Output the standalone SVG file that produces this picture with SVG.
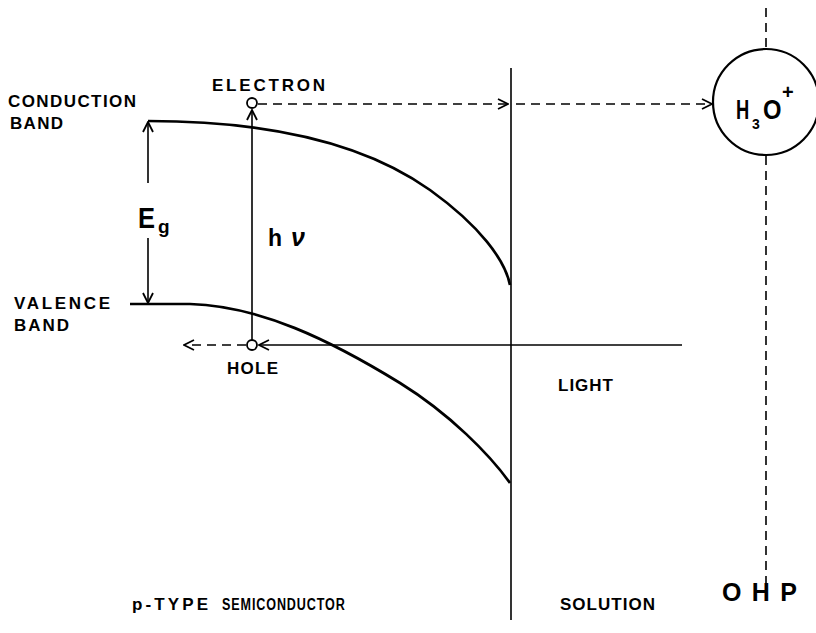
<svg xmlns="http://www.w3.org/2000/svg" width="816" height="633" viewBox="0 0 816 633">
<style>
text{font-family:"Liberation Sans",Arial,sans-serif;font-weight:bold;fill:#000}
.lbl{font-size:17px}
.band{fill:none;stroke:#000;stroke-width:2.7}
.ln{fill:none;stroke:#000;stroke-width:1.6}
.dash{fill:none;stroke:#000;stroke-width:1.6;stroke-dasharray:9,6}
</style>
<defs>
<marker id="ah" viewBox="0 0 12 12" refX="11" refY="6" markerWidth="12" markerHeight="12" markerUnits="userSpaceOnUse" orient="auto">
<path d="M1,1 L11,6 L1,11" fill="none" stroke="#000" stroke-width="1.8"/>
</marker>
</defs>
<rect width="816" height="633" fill="#fff"/>
<g id="bands">
<path class="band" d="M148,121 C260,121 360,140 430,190 C480,226 505,260 510,285"/>
<path class="band" d="M130,304 L190,304 C260,306 330,340 400,383 C450,414 490,455 510,483"/>
</g>
<g id="interface">
<line class="ln" x1="511" y1="68" x2="511" y2="620"/>
</g>
<g id="ohp">
<line class="dash" x1="766" y1="8" x2="766" y2="49"/>
<line class="dash" x1="766" y1="156" x2="766" y2="592"/>
<circle cx="766" cy="102" r="53" fill="none" stroke="#000" stroke-width="2.2"/>
<text transform="translate(736,119) scale(0.68,1)" font-size="27">H</text>
<text x="752" y="129" font-size="14">3</text>
<text transform="translate(763,119) scale(0.88,1)" font-size="27">O</text>
<text x="782" y="99" font-size="20">+</text>
</g>
<g id="electron">
<circle cx="252" cy="103" r="5" fill="#fff" stroke="#000" stroke-width="1.8"/>
<text class="lbl" x="212" y="91" textLength="113" lengthAdjust="spacing">ELECTRON</text>
</g>
<g id="hole">
<circle cx="252" cy="345" r="5" fill="#fff" stroke="#000" stroke-width="1.8"/>
<text class="lbl" x="227" y="374" textLength="51" lengthAdjust="spacing">HOLE</text>
</g>
<g id="connectors">
<line class="dash" x1="258" y1="104" x2="508" y2="104" marker-end="url(#ah)"/>
<line class="dash" x1="516" y1="104" x2="712" y2="104" marker-end="url(#ah)"/>
<line class="ln" x1="252" y1="340" x2="252" y2="110" marker-end="url(#ah)"/>
<line class="ln" x1="682" y1="345" x2="259" y2="345" marker-end="url(#ah)"/>
<line class="dash" x1="246" y1="345" x2="184" y2="345" marker-end="url(#ah)"/>
<line class="ln" x1="148" y1="183" x2="148" y2="122" marker-end="url(#ah)"/>
<line class="ln" x1="148" y1="238" x2="148" y2="303" marker-end="url(#ah)"/>
</g>
<g id="labels">
<text class="lbl" x="8" y="107" textLength="128" lengthAdjust="spacing">CONDUCTION</text>
<text class="lbl" x="10" y="129" textLength="53" lengthAdjust="spacing">BAND</text>
<text class="lbl" x="14" y="309" textLength="96" lengthAdjust="spacing">VALENCE</text>
<text class="lbl" x="14" y="331" textLength="55" lengthAdjust="spacing">BAND</text>
<text transform="translate(138,228) scale(0.88,1)" font-size="29">E</text>
<text x="158" y="233" font-size="19">g</text>
<text x="268" y="246" font-size="23">h</text>
<text x="291" y="246" font-size="25" font-style="italic" font-family="'DejaVu Serif',serif">ν</text>
<text class="lbl" x="558" y="391" textLength="55" lengthAdjust="spacing">LIGHT</text>
<text class="lbl" x="132" y="610" textLength="76" lengthAdjust="spacing">p-TYPE</text>
<text transform="translate(222,610) scale(0.74,1)" font-size="17" letter-spacing="1.2">SEMICONDUCTOR</text>
<text class="lbl" x="560" y="610" textLength="95" lengthAdjust="spacing">SOLUTION</text>
<text x="722" y="601" font-size="25" textLength="75" lengthAdjust="spacing">OHP</text>
</g>
</svg>
